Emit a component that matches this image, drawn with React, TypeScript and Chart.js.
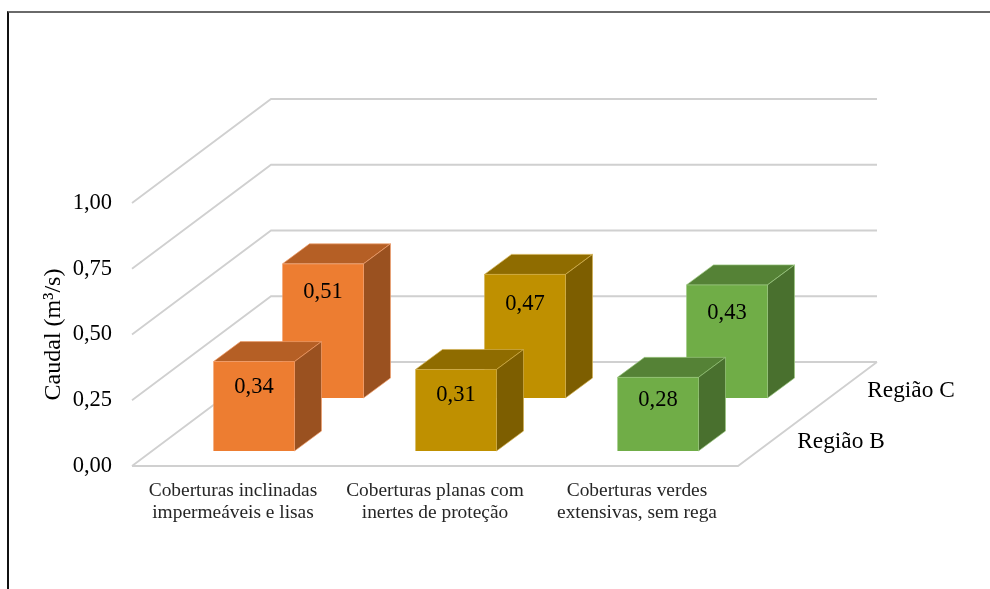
import React, { useEffect, useRef } from "react";
import { Chart, registerables } from "chart.js";

Chart.register(...registerables);

const categories = [
  ["Coberturas inclinadas", "impermeáveis e lisas"],
  ["Coberturas planas com", "inertes de proteção"],
  ["Coberturas verdes", "extensivas, sem rega"],
];
const seriesNames = ["Região B", "Região C"];
const regiaoB = [0.34, 0.31, 0.28];
const regiaoC = [0.51, 0.47, 0.43];
const frontColors = ["#ED7D31", "#BF9000", "#70AD47"];
const topColors = ["#B55F25", "#8F6C00", "#558236"];
const sideColors = ["#9A5120", "#7D5E00", "#49702E"];
const edgeColors = ["#F2A06E", "#D2B04F", "#9BC77F"];
const yTicks = [0, 0.25, 0.5, 0.75, 1];

const FONT = '"Liberation Serif", "Times New Roman", serif';
const W = 990;
const H = 589;
const WALL_DX = 139;
const WALL_DY = -104;
const BAR_DX = 27;
const BAR_DY = -20;
const LABEL_DROP = [
  [26, 26, 23],
  [28.5, 29.5, 28.5],
];
const comma = (v: number) => v.toFixed(2).replace(".", ",");

const scene = {
  id: "scene3d",
  beforeDatasetsDraw(chart: any) {
    const { ctx, chartArea: a, scales } = chart;
    const y = scales.y;
    ctx.save();
    ctx.strokeStyle = "#D0D0D0";
    ctx.lineWidth = 1.8;
    yTicks.forEach((t) => {
      const py = y.getPixelForValue(t);
      ctx.beginPath();
      ctx.moveTo(a.left, py);
      ctx.lineTo(a.left + WALL_DX, py + WALL_DY);
      ctx.lineTo(a.right + WALL_DX, py + WALL_DY);
      ctx.stroke();
    });
    const p0 = y.getPixelForValue(0);
    ctx.beginPath();
    ctx.moveTo(a.left, p0);
    ctx.lineTo(a.right, p0);
    ctx.lineTo(a.right + WALL_DX, p0 + WALL_DY);
    ctx.stroke();

    ctx.fillStyle = "#000";
    ctx.font = `23.3px ${FONT}`;
    ctx.textAlign = "center";
    ctx.textBaseline = "middle";
    // series names sit along the depth axis, right of the floor edge
    ctx.fillText(seriesNames[0], a.right + 103, p0 - 24);
    ctx.fillText(seriesNames[1], a.right + 173, p0 - 75);
    ctx.restore();
  },
  beforeDatasetDraw(chart: any, args: any) {
    const { ctx } = chart;
    const meta = chart.getDatasetMeta(args.index);
    ctx.save();
    ctx.lineWidth = 0.7;
    meta.data.forEach((b: any, i: number) => {
      const l = b.x - b.width / 2;
      const r = b.x + b.width / 2;
      ctx.strokeStyle = edgeColors[i];
      ctx.fillStyle = topColors[i];
      ctx.beginPath();
      ctx.moveTo(l, b.y);
      ctx.lineTo(l + BAR_DX, b.y + BAR_DY);
      ctx.lineTo(r + BAR_DX, b.y + BAR_DY);
      ctx.lineTo(r, b.y);
      ctx.closePath();
      ctx.fill();
      ctx.stroke();
      ctx.fillStyle = sideColors[i];
      ctx.beginPath();
      ctx.moveTo(r, b.y);
      ctx.lineTo(r + BAR_DX, b.y + BAR_DY);
      ctx.lineTo(r + BAR_DX, b.base + BAR_DY);
      ctx.lineTo(r, b.base);
      ctx.closePath();
      ctx.fill();
      ctx.stroke();
    });
    ctx.restore();
  },
  afterDatasetDraw(chart: any, args: any) {
    const { ctx } = chart;
    const meta = chart.getDatasetMeta(args.index);
    const values = chart.data.datasets[args.index].data;
    ctx.save();
    ctx.fillStyle = "#000";
    ctx.font = `22.5px ${FONT}`;
    ctx.textAlign = "center";
    ctx.textBaseline = "middle";
    meta.data.forEach((b: any, i: number) => {
      ctx.fillText(comma(values[i].y), b.x, b.y + LABEL_DROP[args.index][i]);
    });
    ctx.restore();
  },
};

export default function App() {
  const ref = useRef<HTMLCanvasElement>(null);
  useEffect(() => {
    const chart = new Chart(ref.current as HTMLCanvasElement, {
      type: "bar",
      data: {
        labels: categories as any,
        datasets: [
          {
            label: seriesNames[0],
            data: regiaoB.map((v, i) => ({ x: i, y: v })),
            xAxisID: "xB",
            yAxisID: "yB",
            backgroundColor: frontColors,
            borderColor: edgeColors,
            borderWidth: 0.6,
            barThickness: 81,
            grouped: false,
            clip: false,
          },
          {
            label: seriesNames[1],
            data: regiaoC.map((v, i) => ({ x: i, y: v })),
            xAxisID: "xC",
            yAxisID: "yC",
            backgroundColor: frontColors,
            borderColor: edgeColors,
            borderWidth: 0.6,
            barThickness: 81,
            grouped: false,
            clip: false,
          },
        ] as any,
      },
      options: {
        responsive: false,
        animation: false,
        devicePixelRatio: 1,
        layout: { autoPadding: false, padding: { top: 203, left: 0, right: W - 738, bottom: 0 } },
        plugins: { legend: { display: false }, tooltip: { enabled: false } },
        scales: {
          x: {
            type: "category",
            offset: true,
            afterFit: (s: any) => { s.height = H - 466; },
            grid: { display: false, drawTicks: false },
            border: { display: false },
            ticks: {
              autoSkip: false,
              maxRotation: 0,
              minRotation: 0,
              padding: 14,
              color: "#262626",
              font: { family: FONT, size: 19.4, lineHeight: 1.13 },
            },
          },
          y: {
            type: "linear",
            min: 0,
            max: 1,
            afterFit: (s: any) => { s.width = 132; },
            grid: { display: false, drawTicks: false },
            border: { display: false },
            title: {
              display: true,
              text: "Caudal (m³/s)",
              color: "#000",
              font: { family: FONT, size: 24 },
              padding: { top: 39, bottom: 0 },
            },
            ticks: {
              stepSize: 0.25,
              padding: 20,
              color: "#000",
              font: { family: FONT, size: 22.5 },
              callback: (v: any) => comma(Number(v)),
            },
          },
          xB: { type: "linear", display: false, offset: false, min: -0.604, max: 2.396 },
          xC: { type: "linear", display: false, offset: false, min: -0.9455, max: 2.0545 },
          yB: { type: "linear", display: false, min: -0.057, max: 0.943 },
          yC: { type: "linear", display: false, min: -0.2586, max: 0.7414 },
        },
      } as any,
      plugins: [scene],
    });
    return () => chart.destroy();
  }, []);
  return (
    <div style={{ position: "fixed", left: 0, top: 0, width: W, height: H, background: "#fff", overflow: "hidden" }}>
      <canvas ref={ref} width={W} height={H} style={{ display: "block" }} />
      <div
        style={{
          position: "absolute",
          left: 7,
          top: 11,
          right: 0,
          bottom: 0,
          borderTop: "2px solid #6A6A6A",
          borderLeft: "2px solid #111",
          pointerEvents: "none",
        }}
      />
    </div>
  );
}
